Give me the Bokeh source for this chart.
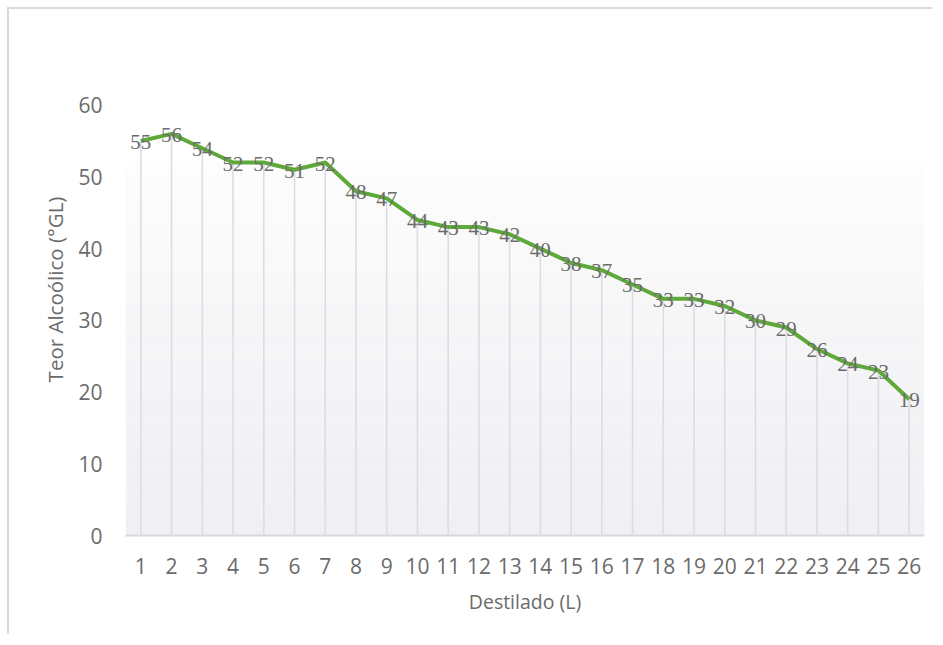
import numpy as np
from bokeh.plotting import figure
from bokeh.models import ColumnDataSource, FixedTicker, Range1d, LabelSet
from bokeh.embed import file_html
from bokeh.resources import INLINE

# Data
destilado = list(range(1, 27))
teor = [55, 56, 54, 52, 52, 51, 52, 48, 47, 44, 43, 43, 42, 40, 38, 37, 35,
        33, 33, 32, 30, 29, 26, 24, 23, 19]
y_ticks = [0, 10, 20, 30, 40, 50, 60]
x_title = "Destilado (L)"
y_title = "Teor Alcoólico (°GL)"

FONT = "Open Sans"
TXT = "#6b6b6b"

y_top = 68.6
p = figure(width=925, height=627, output_backend="svg", toolbar_location=None,
           x_range=Range1d(0.5, 26.5), y_range=Range1d(0, y_top),
           min_border_left=116, min_border_right=10, min_border_top=34,
           min_border_bottom=101)
p.styles = {"border-top": "2px solid #d9d9d9", "border-left": "2px solid #d9d9d9",
            "margin-top": "7px", "margin-left": "7px"}
p.outline_line_color = None
p.background_fill_color = "white"
p.xgrid.visible = False
p.ygrid.visible = False


def hexmix(c1, c2, t):
    a = np.array([int(c1[i:i + 2], 16) for i in (1, 3, 5)], float)
    b = np.array([int(c2[i:i + 2], 16) for i in (1, 3, 5)], float)
    c = np.round(a + (b - a) * t).astype(int)
    return "#%02x%02x%02x" % tuple(c)

# background gradient bands (decoration)
bands_b, bands_t, bands_c = [], [], []
n1 = 20
e1 = np.linspace(52, 35, n1 + 1)
for i in range(n1):
    bands_t.append(e1[i]); bands_b.append(e1[i + 1])
    bands_c.append(hexmix("#fdfdfd", "#f8f8f9", i / (n1 - 1)))
n2 = 40
e2 = np.linspace(35, 0, n2 + 1)
for i in range(n2):
    bands_t.append(e2[i]); bands_b.append(e2[i + 1])
    bands_c.append(hexmix("#f7f7f8", "#efeff4", i / (n2 - 1)))
p.quad(left=0.5, right=26.5, bottom=bands_b, top=bands_t, fill_color=bands_c,
       line_color=None)

src = ColumnDataSource(dict(x=destilado, y=teor, lab=[str(v) for v in teor],
                            zero=[0] * len(teor)))

# drop lines
p.segment(x0="x", y0="zero", x1="x", y1="y", source=src,
          line_color="#dadde2", line_width=1.6)

p.line(x="x", y="y", source=src, line_color="#5fa83a", line_width=4,
       line_join="round")

labels = LabelSet(x="x", y="y", text="lab", source=src, text_align="center",
                  text_baseline="middle", text_font=FONT, text_font_size="21px",
                  text_color=TXT, y_offset=-1)
p.add_layout(labels)

# axes
p.xaxis.ticker = FixedTicker(ticks=destilado)
p.yaxis.ticker = FixedTicker(ticks=y_ticks)
for ax in (p.xaxis[0], p.yaxis[0]):
    ax.major_tick_line_color = None
    ax.minor_tick_line_color = None
    ax.major_label_text_font = FONT
    ax.major_label_text_font_size = "21px"
    ax.major_label_text_color = TXT
    ax.axis_label_text_font = FONT
    ax.axis_label_text_font_style = "normal"
    ax.axis_label_text_color = TXT
p.xaxis.axis_label_text_font_size = "19.5px"
p.yaxis.axis_label_text_font_size = "20.5px"
p.xaxis.axis_line_color = "#d9d9d9"
p.xaxis.axis_line_width = 2
p.yaxis.axis_line_color = None
p.xaxis.major_label_standoff = 16
p.yaxis.major_label_standoff = 17
p.xaxis.axis_label_standoff = 11
p.yaxis.axis_label_standoff = 6
p.xaxis.axis_label = x_title
p.yaxis.axis_label = y_title

open("out.html", "w").write(file_html(p, INLINE))
